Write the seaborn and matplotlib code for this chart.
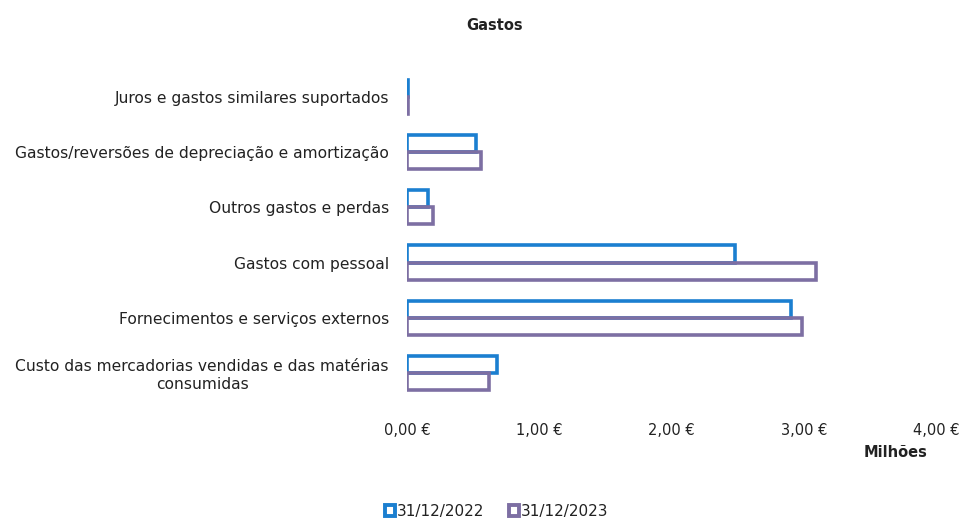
import pandas as pd
import seaborn as sns
import matplotlib.pyplot as plt
from matplotlib.patches import Patch

# categories, top to bottom as drawn
categorias = ['Juros e gastos similares suportados',
              'Gastos/reversões de depreciação e amortização',
              'Outros gastos e perdas',
              'Gastos com pessoal',
              'Fornecimentos e serviços externos',
              'Custo das mercadorias vendidas e das matérias\nconsumidas']
# values in millions of euros
v2022 = [0.005, 0.52, 0.16, 2.48, 2.90, 0.68]
v2023 = [0.005, 0.56, 0.20, 3.09, 2.99, 0.62]
anos = ['31/12/2022', '31/12/2023']
xticks = [0, 1, 2, 3, 4]
xlabels = ['0,00 €', '1,00 €', '2,00 €', '3,00 €', '4,00 €']

cores = {'31/12/2022': '#1b7fd0', '31/12/2023': '#7d6fa3'}

df = pd.DataFrame({'categoria': categorias * 2,
                   'valor': v2022 + v2023,
                   'ano': [anos[0]] * len(categorias) + [anos[1]] * len(categorias)})

sns.set_theme(style='white')
plt.rcParams['font.family'] = ['DejaVu Sans']
txt = '#222222'

fig = plt.figure(figsize=(9.63, 5.24), dpi=100)
ax = fig.add_axes([0.4226, 0.2355, 0.5494, 0.6321])

sns.barplot(data=df, x='valor', y='categoria', hue='ano', order=categorias,
            hue_order=anos, palette=cores, orient='h', fill=False,
            linewidth=2.6, width=0.62, legend=False, ax=ax)

ax.set_xlim(0, 4)
ax.set_xticks(xticks)
ax.set_xticklabels(xlabels, fontsize=10.5, color=txt)
ax.tick_params(axis='x', length=0, pad=16)
ax.tick_params(axis='y', length=0, pad=13)
for lab in ax.get_yticklabels():
    lab.set_fontsize(11.2)
    lab.set_color(txt)
    lab.set_horizontalalignment('right')
    lab.set_multialignment('center')
ax.set_xlabel('')
ax.set_ylabel('')
sns.despine(ax=ax, left=True, bottom=True)

fig.text(0.514, 0.952, 'Gastos', ha='center', va='center', fontsize=10.5,
         fontweight='bold', color=txt)
fig.text(0.930, 0.137, 'Milhões', ha='center', va='center', fontsize=10.5,
         fontweight='bold', color=txt)

handles = [Patch(facecolor='white', edgecolor=cores[a], linewidth=2.8, label=a) for a in anos]
fig.legend(handles=handles, loc='center', bbox_to_anchor=(0.516, 0.024), ncol=2,
           frameon=False, fontsize=11, handlelength=0.65, handleheight=0.65,
           handletextpad=0.15, columnspacing=1.6, labelcolor=txt,
           borderpad=0.2)

fig.savefig('out.png', dpi=100)
